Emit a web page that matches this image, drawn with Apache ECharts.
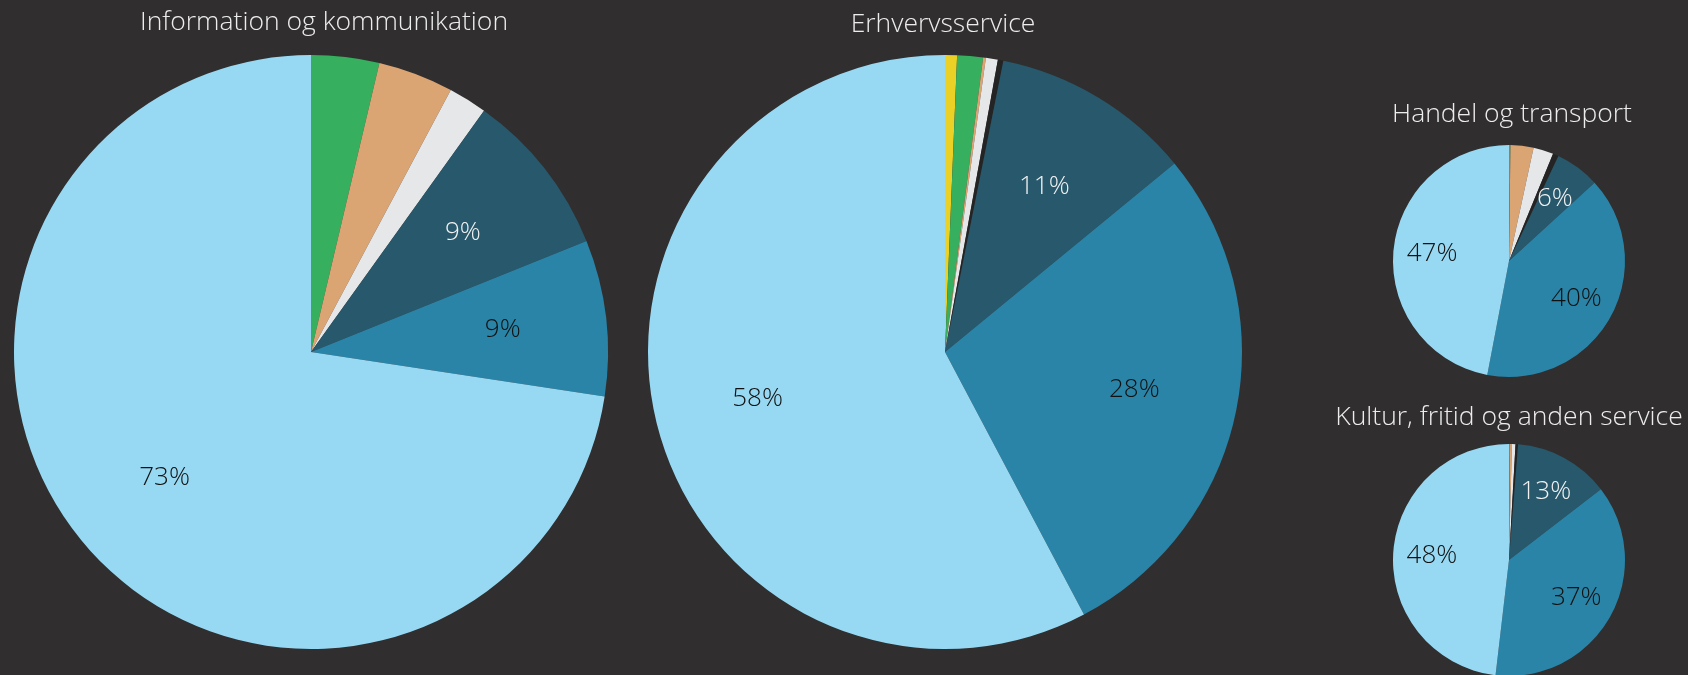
<!DOCTYPE html>
<html>
<head>
<meta charset="utf-8">
<script src="https://cdn.jsdelivr.net/npm/echarts@6/dist/echarts.min.js"></script>
<style>
  html, body { margin: 0; padding: 0; background: #302E2F; }
  #chart { width: 1688px; height: 675px; }
</style>
</head>
<body>
<div id="chart"></div>
<script>
// Categories (slice order clockwise from 12 o'clock)
const categories = ['Kategori A', 'Kategori B', 'Kategori C', 'Kategori D', 'Kategori E', 'Kategori F', 'Kategori G', 'Kategori H'];
// Pie titles
const pieTitles = ['Information og kommunikation', 'Erhvervsservice', 'Handel og transport', 'Kultur, fritid og anden service'];
// Shares (%) per pie
const infoKomm   = [0,    3.7, 4.1,  2.1,  0,    9.0,  8.5,  72.6];
const erhverv    = [0.65, 1.4, 0.15, 0.65, 0.3,  10.9, 28.2, 57.75];
const handel     = [0,    0.2, 3.2,  2.8,  0.8,  6.2,  39.8, 47.0];
const kultur     = [0,    0.15, 0.25, 0.5, 0.35, 13.3, 37.3, 48.15];

const colors = ['#EBD025', '#36AF5E', '#DBA473', '#E6E7E8', '#242424', '#28586C', '#2A84A7', '#97D9F3'];
const labelColors = ['#111', '#111', '#111', '#111', '#eee', '#F2F2F2', '#111', '#111'];

const pies = [
  { values: infoKomm, center: [311, 352], r: 297, title: [324, 9] },
  { values: erhverv,  center: [945, 352], r: 297, title: [943, 11] },
  { values: handel,   center: [1509, 261], r: 116, title: [1512, 101] },
  { values: kultur,   center: [1509, 560], r: 116, title: [1509, 404] }
];

const FONT = '"Open Sans"';
const series = [];
const titles = [];
pies.forEach((p, i) => {
  const data = p.values.map((v, k) => ({ name: categories[k], value: v, itemStyle: { color: colors[k] } }));
  series.push({
    type: 'pie',
    center: p.center,
    radius: p.r,
    startAngle: 90,
    clockwise: true,
    silent: true,
    animation: false,
    avoidLabelOverlap: false,
    label: { show: false },
    labelLine: { show: false },
    itemStyle: { borderWidth: 0 },
    data: data
  });
  const overlay = p.values.map((v, k) => ({
    name: categories[k], value: v,
    itemStyle: { color: 'rgba(0,0,0,0)' },
    label: { color: labelColors[k] }
  }));
  series.push({
    type: 'pie',
    center: p.center,
    radius: [p.r * 0.28, p.r],
    startAngle: 90,
    clockwise: true,
    silent: true,
    animation: false,
    avoidLabelOverlap: false,
    labelLine: { show: false },
    label: {
      show: true,
      position: 'inside',
      fontFamily: FONT,
      fontWeight: 300,
      fontSize: 26,
      formatter: (prm) => prm.value >= 5 ? Math.round(prm.percent) + '%' : ''
    },
    data: overlay
  });
  titles.push({
    text: pieTitles[i],
    left: p.title[0],
    top: p.title[1],
    textAlign: 'center',
    padding: 0,
    textStyle: { color: '#EDEDED', fontFamily: FONT, fontWeight: 300, fontSize: 26.5 }
  });
});

const chart = echarts.init(document.getElementById('chart'));
chart.setOption({
  backgroundColor: '#302E2F',
  animation: false,
  title: titles,
  series: series
});
</script>
</body>
</html>
